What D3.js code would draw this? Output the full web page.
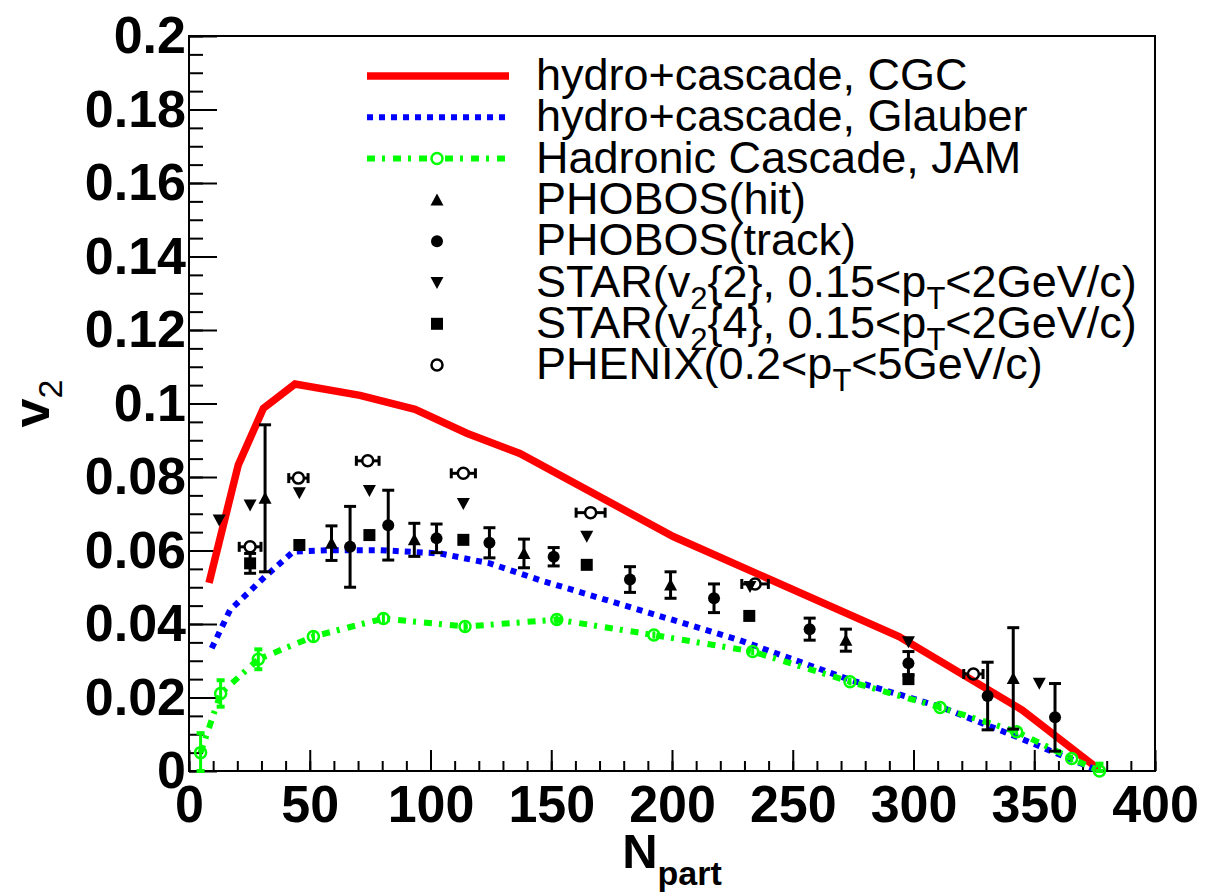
<!DOCTYPE html>
<html>
<head>
<meta charset="utf-8">
<script src="https://cdn.jsdelivr.net/npm/d3@7"></script>
<style>
  body { margin: 0; background: #fff; }
</style>
</head>
<body>
<script>
// 图表尺寸
var width = 1212;
var height = 893;

// 理论曲线
var cgcN = [8.3, 20.4, 30.8, 43.9, 70.8, 93.6, 115, 137, 200.5, 294, 345, 377];
var cgcV = [0.0512, 0.0833, 0.0987, 0.1053, 0.1022, 0.0984, 0.0919, 0.0864, 0.0638, 0.0366, 0.0166, 0.0003];

var glbN = [9.4, 17, 31.5, 43.2, 58, 79, 104, 124.6, 145, 186.7, 228, 273.7, 311, 342.7, 377];
var glbV = [0.0334, 0.0438, 0.0529, 0.0597, 0.0601, 0.0601, 0.0592, 0.0565, 0.052, 0.0438, 0.0356, 0.0248, 0.0175, 0.0093, 0.0];

var jamN = [4.8, 13.1, 28.7, 51.5, 80.5, 114.3, 152.3, 192.5, 233.4, 273.7, 311, 342.7, 365.5, 377];
var jamV = [0.0050, 0.0211, 0.0304, 0.0366, 0.0415, 0.0393, 0.0412, 0.0370, 0.0325, 0.0243, 0.0173, 0.0107, 0.0034, 0.0];
var jamErr = [0.0053, 0.0036, 0.0027, 0.0012, 0.0012, 0.0012, 0.0012, 0.0010, 0.0010, 0.0010, 0.0010, 0.0010, 0.0010, 0.0020];

// 实验数据
var hitN = [31.5, 59, 93.3, 138.7, 199.4, 272, 341.3];
var hitV = [0.0742, 0.062, 0.0629, 0.0592, 0.0506, 0.0356, 0.0252];
var hitErr = [0.020, 0.0047, 0.0045, 0.0039, 0.0036, 0.003, 0.0138];

var trkN = [66.7, 82.5, 102.5, 124.4, 151, 182.6, 217.4, 257, 297.9, 330.7, 358.6];
var trkV = [0.061, 0.0669, 0.0633, 0.0621, 0.0583, 0.0521, 0.047, 0.0386, 0.0293, 0.0204, 0.0146];
var trkErr = [0.011, 0.0095, 0.0039, 0.0041, 0.0025, 0.0035, 0.0039, 0.003, 0.0032, 0.0092, 0.0092];

var star2N = [12.5, 25.3, 45.7, 74.7, 113.6, 164.7, 232.3, 297.9, 352.1];
var star2V = [0.0683, 0.0724, 0.0757, 0.0763, 0.0728, 0.0639, 0.0502, 0.0352, 0.0239];

var star4N = [25.3, 45.7, 74.7, 113.6, 164.7, 232, 297.9];
var star4V = [0.0565, 0.0615, 0.0642, 0.0629, 0.0561, 0.0422, 0.025];
var star4Err = [0.0027, 0, 0, 0, 0, 0, 0];

var phxN = [25.3, 45.3, 74, 113.6, 166.3, 234.4, 324.8];
var phxV = [0.061, 0.0797, 0.0844, 0.081, 0.0703, 0.0509, 0.0264];
var phxErrN = [4.5, 4, 4.7, 5, 6, 5.5, 4];

// 刻度
var xMajor = [0, 50, 100, 150, 200, 250, 300, 350, 400];
var xTickLabels = ['0', '50', '100', '150', '200', '250', '300', '350', '400'];
var xMinor = d3.range(0, 401, 10);
var yMajor = [0, 0.02, 0.04, 0.06, 0.08, 0.1, 0.12, 0.14, 0.16, 0.18, 0.2];
var yTickLabels = ['0', '0.02', '0.04', '0.06', '0.08', '0.1', '0.12', '0.14', '0.16', '0.18', '0.2'];
var yMinor = d3.range(0, 0.2001, 0.005);

var legendNames = ['hydro+cascade, CGC', 'hydro+cascade, Glauber', 'Hadronic Cascade, JAM',
  'PHOBOS(hit)', 'PHOBOS(track)', 'STAR(v_2{2}, 0.15<p_T<2GeV/c)', 'STAR(v_2{4}, 0.15<p_T<2GeV/c)', 'PHENIX(0.2<p_T<5GeV/c)'];

var font = '"Liberation Sans", Arial, Helvetica, sans-serif';
var red = '#ff0000', blue = '#0000ff', green = '#00ff00';

var x = d3.scaleLinear().domain([0, 400]).range([189, 1155]);
var y = d3.scaleLinear().domain([0, 0.2]).range([771, 36]);

var svg = d3.select('body')
  .append('svg')
  .attr('width', width)
  .attr('height', height)
  .style('background', '#fff');

function zip(a, b, c) {
  return a.map(function(d, i) { return [d, b[i], c ? c[i] : 0]; });
}

// 坐标轴
function styleAxis(g) {
  g.select('.domain').remove();
  g.selectAll('line').attr('stroke', '#000').attr('stroke-width', 2);
  g.attr('font-family', font).attr('font-size', 52).attr('font-weight', 'bold');
  g.selectAll('text').attr('fill', '#000');
}

svg.append('g')
  .attr('transform', 'translate(0,' + y(0) + ')')
  .call(d3.axisBottom(x).tickValues(xMinor).tickSizeInner(-10).tickSizeOuter(0).tickFormat(''))
  .call(styleAxis);
svg.append('g')
  .attr('transform', 'translate(0,' + y(0) + ')')
  .call(d3.axisBottom(x).tickValues(xMajor).tickSizeInner(-21).tickSizeOuter(0).tickPadding(14)
    .tickFormat(function(d, i) { return xTickLabels[i]; }))
  .call(styleAxis);

svg.append('g')
  .attr('transform', 'translate(' + x(0) + ',0)')
  .call(d3.axisLeft(y).tickValues(yMinor).tickSizeInner(-14).tickSizeOuter(0).tickFormat(''))
  .call(styleAxis);
svg.append('g')
  .attr('transform', 'translate(' + x(0) + ',0)')
  .call(d3.axisLeft(y).tickValues(yMajor).tickSizeInner(-28).tickSizeOuter(0).tickPadding(3)
    .tickFormat(function(d, i) { return yTickLabels[i]; }))
  .call(styleAxis);

svg.append('rect')
  .attr('x', x(0)).attr('y', y(0.2))
  .attr('width', x(400) - x(0)).attr('height', y(0) - y(0.2))
  .attr('fill', 'none').attr('stroke', '#000').attr('stroke-width', 2);

// 坐标轴标题
var xt = svg.append('text')
  .attr('x', x(200)).attr('y', 868)
  .attr('text-anchor', 'middle')
  .attr('font-family', font).attr('font-weight', 'bold');
xt.append('tspan').attr('font-size', 49).text('N');
xt.append('tspan').attr('font-size', 34).attr('dy', 17).text('part');

var yt = svg.append('text')
  .attr('transform', 'translate(49,' + y(0.1) + ') rotate(-90)')
  .attr('text-anchor', 'middle')
  .attr('font-family', font).attr('font-weight', 'bold');
yt.append('tspan').attr('font-size', 52).text('v');
yt.append('tspan').attr('font-size', 34).attr('font-weight', 'normal').attr('dy', 13).text('2');

// 曲线
var line = d3.line()
  .x(function(d) { return x(d[0]); })
  .y(function(d) { return y(d[1]); });

svg.append('path')
  .attr('d', line(zip(cgcN, cgcV)))
  .attr('fill', 'none').attr('stroke', red).attr('stroke-width', 7.5);

svg.append('path')
  .attr('d', line(zip(glbN, glbV)))
  .attr('fill', 'none').attr('stroke', blue).attr('stroke-width', 6)
  .attr('stroke-dasharray', '6,6');

svg.append('path')
  .attr('d', line(zip(jamN, jamV)))
  .attr('fill', 'none').attr('stroke', green).attr('stroke-width', 6)
  .attr('stroke-dasharray', '8,7,3,8');

// JAM 误差与圆圈
var jam = zip(jamN, jamV, jamErr);
svg.append('g').selectAll('g')
  .data(jam)
  .enter()
  .append('g')
  .each(function(d) {
    var g = d3.select(this);
    var cx = x(d[0]);
    g.append('line')
      .attr('x1', cx).attr('x2', cx)
      .attr('y1', y(d[1] + d[2])).attr('y2', y(Math.max(d[1] - d[2], 0)))
      .attr('stroke', green).attr('stroke-width', 3);
    if (y(d[1] - d[2]) - y(d[1] + d[2]) > 14) {
      [d[1] + d[2], Math.max(d[1] - d[2], 0)].forEach(function(v) {
        g.append('line')
          .attr('x1', cx - 4).attr('x2', cx + 4)
          .attr('y1', y(v)).attr('y2', y(v))
          .attr('stroke', green).attr('stroke-width', 4);
      });
    }
    g.append('circle')
      .attr('cx', cx).attr('cy', y(d[1])).attr('r', 5.5)
      .attr('fill', 'none').attr('stroke', green).attr('stroke-width', 2.5);
  });

// 标记形状
var shapes = {
  up: 'M-6.5,5.5L6.5,5.5L0,-6.5Z',
  down: 'M-6.5,-5.5L6.5,-5.5L0,6.5Z',
  square: 'M-6,-6H6V6H-6Z'
};

function marker(g, type, cx, cy) {
  if (type === 'circle') {
    g.append('circle').attr('cx', cx).attr('cy', cy).attr('r', 6).attr('fill', '#000');
  } else if (type === 'open') {
    g.append('circle').attr('cx', cx).attr('cy', cy).attr('r', 5.5)
      .attr('fill', 'none').attr('stroke', '#000').attr('stroke-width', 2.5);
  } else {
    g.append('path').attr('d', shapes[type])
      .attr('transform', 'translate(' + cx + ',' + cy + ')').attr('fill', '#000');
  }
}

function vErrors(data, type) {
  var g = svg.append('g');
  data.forEach(function(d) {
    var cx = x(d[0]);
    if (d[2] > 0) {
      var y1 = y(d[1] + d[2]), y2 = y(d[1] - d[2]);
      g.append('line').attr('x1', cx).attr('x2', cx).attr('y1', y1).attr('y2', y2)
        .attr('stroke', '#000').attr('stroke-width', 3);
      [y1, y2].forEach(function(yy) {
        g.append('line').attr('x1', cx - 6).attr('x2', cx + 6).attr('y1', yy).attr('y2', yy)
          .attr('stroke', '#000').attr('stroke-width', 3);
      });
    }
    marker(g, type, cx, y(d[1]));
  });
}

vErrors(zip(hitN, hitV, hitErr), 'up');
vErrors(zip(trkN, trkV, trkErr), 'circle');
vErrors(zip(star2N, star2V), 'down');
vErrors(zip(star4N, star4V, star4Err), 'square');

// PHENIX 水平误差
var phx = svg.append('g');
zip(phxN, phxV, phxErrN).forEach(function(d) {
  var cx = x(d[0]), cy = y(d[1]);
  var xl = x(d[0] - d[2]), xr = x(d[0] + d[2]);
  phx.append('line').attr('x1', xl).attr('x2', cx - 5.5).attr('y1', cy).attr('y2', cy)
    .attr('stroke', '#000').attr('stroke-width', 3);
  phx.append('line').attr('x1', cx + 5.5).attr('x2', xr).attr('y1', cy).attr('y2', cy)
    .attr('stroke', '#000').attr('stroke-width', 3);
  [xl, xr].forEach(function(xx) {
    phx.append('line').attr('x1', xx).attr('x2', xx).attr('y1', cy - 5).attr('y2', cy + 5)
      .attr('stroke', '#000').attr('stroke-width', 3);
  });
  marker(phx, 'open', cx, cy);
});

// 图例
var legend = svg.append('g');
var legX1 = 367, legX2 = 509, legMid = 437, textX = 536;
var legendTypes = ['red', 'blue', 'green', 'up', 'circle', 'down', 'square', 'open'];

legendNames.forEach(function(name, i) {
  var cy = 76 + 41.3 * i;
  var t = legendTypes[i];
  if (t === 'red') {
    legend.append('line').attr('x1', legX1).attr('x2', legX2).attr('y1', cy).attr('y2', cy)
      .attr('stroke', red).attr('stroke-width', 7.5);
  } else if (t === 'blue') {
    legend.append('line').attr('x1', legX1).attr('x2', legX2).attr('y1', cy).attr('y2', cy)
      .attr('stroke', blue).attr('stroke-width', 6).attr('stroke-dasharray', '6,6');
  } else if (t === 'green') {
    legend.append('line').attr('x1', legX1).attr('x2', legX2).attr('y1', cy).attr('y2', cy)
      .attr('stroke', green).attr('stroke-width', 6).attr('stroke-dasharray', '8,7,3,8');
    legend.append('circle').attr('cx', legMid).attr('cy', cy).attr('r', 5.5)
      .attr('fill', '#fff').attr('stroke', green).attr('stroke-width', 2.5);
  } else {
    marker(legend, t, legMid, cy);
  }

  var text = legend.append('text')
    .attr('x', textX).attr('y', cy + 14)
    .attr('font-family', font).attr('font-size', 45);
  // "_x" 表示下标
  var parts = name.split(/_(.)/);
  parts.forEach(function(p, j) {
    if (p === '') return;
    if (j % 2 === 1) {
      text.append('tspan').attr('font-size', 31).attr('dy', 12).text(p);
    } else {
      var ts = text.append('tspan').text(p);
      if (j > 0) ts.attr('dy', -12);
    }
  });
});
</script>
</body>
</html>
